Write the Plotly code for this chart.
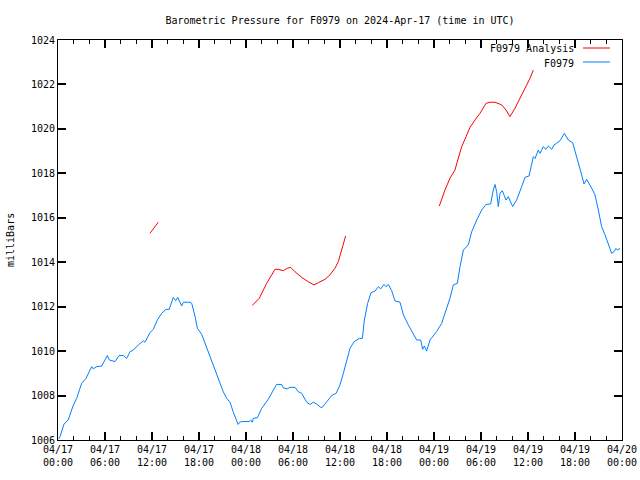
import pandas as pd
import plotly.graph_objects as go

# ---- data (hours since 2024-04-17 00:00 UTC, pressure in mbar) ----
obs_hours = [0.1, 0.26, 0.77, 1.3, 1.96, 2.38, 3.02, 3.57, 4.3, 4.5, 4.94, 5.58, 6.3, 6.55, 7.28, 7.79,
             8.34, 8.77, 9.19, 9.62, 10.26, 10.9, 11.1, 11.74, 12.17, 12.68, 13.23, 13.79, 14.2, 14.51,
             14.72, 15.02, 15.28, 15.79, 16.0, 16.85, 17.07, 17.5, 17.79, 18.34, 18.77, 19.19, 19.83,
             20.47, 21.1, 21.53, 21.96, 22.38, 22.81, 23.0, 23.2, 23.45, 24.4, 24.6, 24.8, 24.94, 25.45,
             26.0, 26.85, 27.49, 27.9, 28.55, 28.76, 29.27, 29.6, 30.26, 30.68, 31.11, 31.75, 32.17,
             32.6, 33.1, 33.53, 33.74, 34.3, 34.94, 35.5, 36.0, 36.43, 36.86, 37.28, 37.79, 38.47,
             38.85, 39.11, 39.53, 39.96, 40.47, 40.9, 41.2, 41.62, 41.87, 42.17, 42.6, 43.02, 43.66,
             44.1, 44.72, 45.36, 45.79, 46.3, 46.55, 46.77, 47.06, 47.49, 48.34, 48.98, 49.62, 50.04,
             50.47, 50.98, 51.32, 51.75, 52.38, 52.81, 53.45, 54.09, 54.64, 55.23, 55.57, 55.79, 56.0,
             56.21, 56.43, 56.72, 57.19, 57.49, 58.04, 58.55, 59.19, 59.62, 60.13, 60.68, 60.9, 61.32,
             61.53, 61.96, 62.26, 62.6, 63.03, 63.32, 63.66, 64.09, 64.64, 65.15, 65.7, 66.21, 66.85,
             67.15, 67.49, 68.13, 68.55, 68.98, 69.4, 69.83, 70.26, 70.68, 70.98, 71.23, 71.4, 71.74]
obs_mbar = [1006.05, 1006.15, 1006.72, 1006.9, 1007.57, 1007.87, 1008.55, 1008.77, 1009.3, 1009.2, 1009.3,
            1009.33, 1009.8, 1009.6, 1009.53, 1009.8, 1009.8, 1009.67, 1009.97, 1010.05, 1010.28,
            1010.46, 1010.4, 1010.83, 1010.98, 1011.4, 1011.7, 1011.88, 1011.88, 1012.26, 1012.42,
            1012.27, 1012.42, 1012.03, 1012.2, 1012.2, 1012.15, 1011.55, 1011.03, 1010.76, 1010.35,
            1009.97, 1009.3, 1008.7, 1008.17, 1007.88, 1007.7, 1007.25, 1006.8, 1006.7, 1006.8,
            1006.83, 1006.83, 1006.9, 1006.8, 1006.98, 1007.0, 1007.42, 1007.84, 1008.25, 1008.5,
            1008.5, 1008.35, 1008.3, 1008.37, 1008.37, 1008.17, 1008.1, 1007.7, 1007.6, 1007.7,
            1007.6, 1007.47, 1007.47, 1007.72, 1008.0, 1008.1, 1008.48, 1009.0, 1009.6, 1010.13,
            1010.42, 1010.57, 1010.57, 1011.4, 1012.15, 1012.63, 1012.7, 1012.9, 1012.8, 1013.0,
            1012.9, 1013.0, 1012.72, 1012.26, 1012.2, 1011.63, 1011.18, 1010.75, 1010.5, 1010.5,
            1010.08, 1010.23, 1010.0, 1010.5, 1010.88, 1011.25, 1011.93, 1012.38, 1012.98, 1013.05,
            1013.8, 1014.55, 1014.78, 1015.37, 1015.9, 1016.35, 1016.6, 1016.62, 1017.25, 1017.5,
            1017.17, 1016.5, 1017.1, 1017.22, 1016.8, 1016.95, 1016.5, 1016.8, 1017.4, 1017.82,
            1017.88, 1018.75, 1018.67, 1019.05, 1018.9, 1019.2, 1019.08, 1019.23, 1019.08, 1019.28,
            1019.35, 1019.47, 1019.8, 1019.5, 1019.38, 1018.78, 1017.93, 1017.52, 1017.73, 1017.33,
            1017.03, 1016.35, 1015.6, 1015.23, 1014.85, 1014.4, 1014.48, 1014.62, 1014.55, 1014.62]

ana_hours = [11.74, 12.27, 12.8, None,
             24.8, 25.7, 26.64, 27.28, 27.7, 28.12, 28.76, 29.27, 29.7, 30.26, 31.1, 31.96, 32.68,
             33.23, 34.09, 34.72, 35.36, 35.79, 36.21, 36.72, None,
             48.68, 49.4, 50.04, 50.68, 51.1, 51.54, 52.09, 52.6, 53.23, 53.87, 54.64, 55.15, 55.79,
             56.64, 57.19, 57.7, 58.34, 58.98, 59.62, 60.26, 60.68]
ana_mbar = [1015.3, 1015.55, 1015.8, None,
            1012.05, 1012.38, 1013.05, 1013.43, 1013.68, 1013.68, 1013.62, 1013.73, 1013.77, 1013.57,
            1013.32, 1013.12, 1012.98, 1013.08, 1013.23, 1013.43, 1013.73, 1014.03, 1014.55, 1015.18, None,
            1016.53, 1017.25, 1017.78, 1018.15, 1018.68, 1019.2, 1019.65, 1020.07, 1020.4, 1020.7,
            1021.15, 1021.2, 1021.2, 1021.08, 1020.85, 1020.55, 1020.93, 1021.38, 1021.82, 1022.28, 1022.65]

start = pd.Timestamp("2024-04-17 00:00")
obs_t = [start + pd.Timedelta(hours=h) for h in obs_hours]
ana_t = [None if h is None else start + pd.Timedelta(hours=h) for h in ana_hours]

RED = "#ff0000"
BLUE = "#0080ff"
FONT = "DejaVu Sans Mono"

fig = go.Figure()
fig.add_trace(go.Scatter(x=ana_t, y=ana_mbar, mode="lines", name="F0979 Analysis",
                         line=dict(color=RED, width=1), connectgaps=False))
fig.add_trace(go.Scatter(x=obs_t, y=obs_mbar, mode="lines", name="F0979",
                         line=dict(color=BLUE, width=1)))

L, R, T, B = 58, 18, 40, 40
W, H = 640, 480
pw, ph = W - L - R, H - T - B

def px(x):
    return (x - L) / pw

def py(y):
    return (H - B - y) / ph

# legend (gnuplot style: text right-aligned, sample to the right)
legend_items = [("F0979 Analysis", RED, 49), ("F0979", BLUE, 63)]
annotations = []
shapes = []
for label, col, ypix in legend_items:
    annotations.append(dict(x=px(576), y=py(ypix), xref="paper", yref="paper", text=label,
                            showarrow=False, xanchor="right", yanchor="middle",
                            font=dict(family=FONT, size=10, color="black")))
    shapes.append(dict(type="line", xref="paper", yref="paper", x0=px(583), x1=px(610),
                       y0=py(ypix - 1), y1=py(ypix - 1), line=dict(color=col, width=1)))

annotations.append(dict(x=px(10), y=0.5, xref="paper", yref="paper", text="milliBars",
                        textangle=-90, showarrow=False, xanchor="center", yanchor="middle",
                        font=dict(family=FONT, size=10, color="black")))

fig.update_layout(
    width=W, height=H,
    margin=dict(l=L, r=R, t=T, b=B, autoexpand=False),
    paper_bgcolor="white", plot_bgcolor="white",
    showlegend=False,
    title=dict(text="Barometric Pressure for F0979 on 2024-Apr-17 (time in UTC)",
               x=0.5, xref="paper", y=1 - 20 / H, yanchor="middle",
               font=dict(family=FONT, size=10, color="black")),
    annotations=annotations,
    shapes=shapes,
)
fig.update_xaxes(
    automargin=False,
    range=["2024-04-17 00:00", "2024-04-20 00:00"],
    tick0="2024-04-17 00:00", dtick=6 * 3600 * 1000,
    tickformat="%m/%d<br>%H:%M",
    ticks="inside", ticklen=8, tickcolor="black", tickwidth=2,
    minor=dict(dtick=2 * 3600 * 1000, ticks="inside", ticklen=4, tickcolor="black", tickwidth=1),
    showline=True, linecolor="black", linewidth=1, mirror="allticks",
    showgrid=False, zeroline=False,
    tickfont=dict(family=FONT, size=10, color="black"),
)
fig.update_yaxes(
    automargin=False,
    range=[1006, 1024], dtick=2,
    ticks="inside", ticklen=8, tickcolor="black", tickwidth=2,
    showline=True, linecolor="black", linewidth=1, mirror="allticks",
    showgrid=False, zeroline=False,
    tickfont=dict(family=FONT, size=10, color="black"),
)

fig.write_html("out.html", post_script="document.body.style.margin='0px';",
               config={"displayModeBar": False})
